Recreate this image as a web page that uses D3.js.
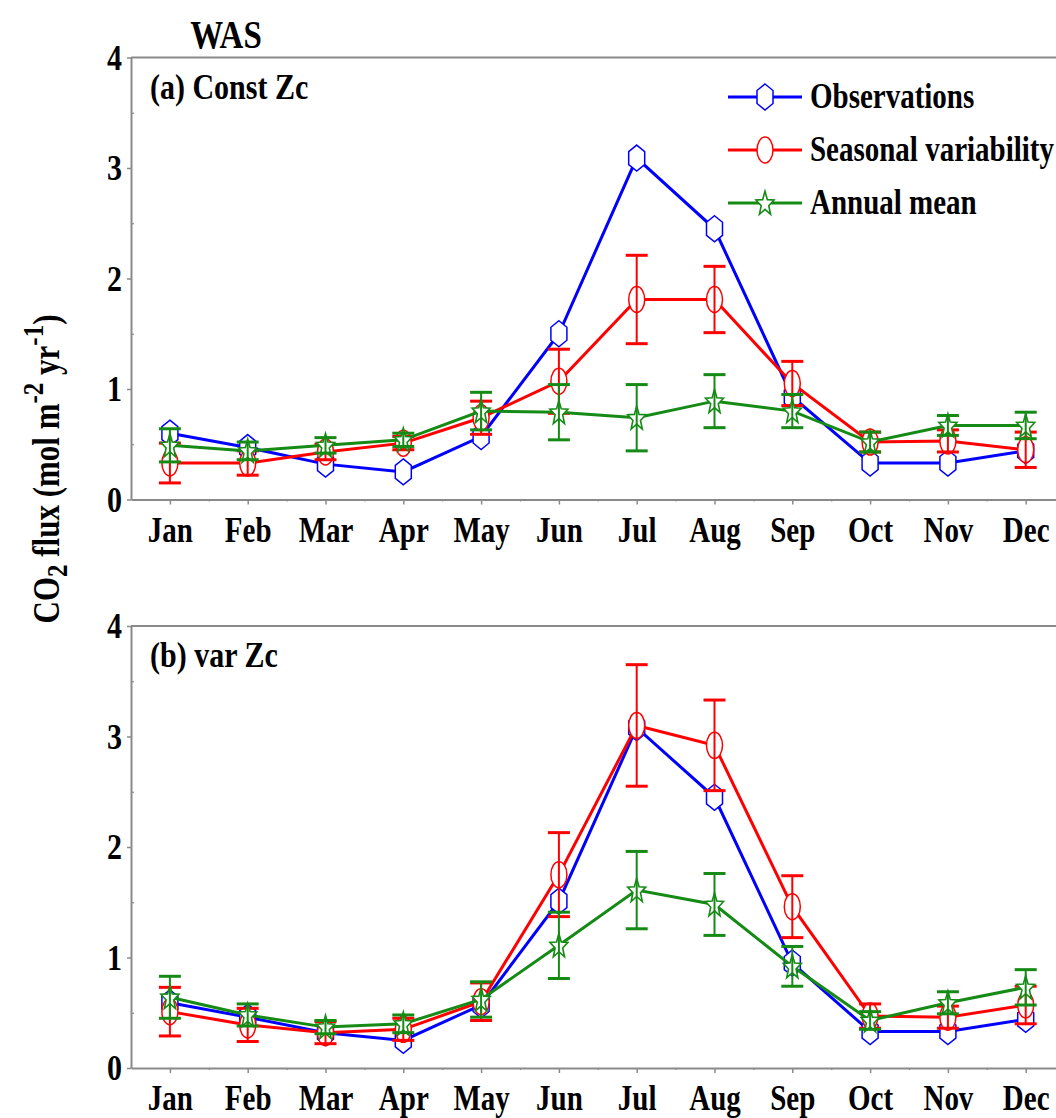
<!DOCTYPE html>
<html>
<head>
<meta charset="utf-8">
<script src="https://cdnjs.cloudflare.com/ajax/libs/d3/7.8.5/d3.min.js"></script>
<style>
  body { margin: 0; background: #fff; }
  svg { display: block; }
  text { font-family: "Liberation Serif", "Times New Roman", serif; font-weight: bold; fill: #000; }
</style>
</head>
<body>
<script>
// ---- data ----
var months = ["Jan","Feb","Mar","Apr","May","Jun","Jul","Aug","Sep","Oct","Nov","Dec"];
var yTicks = [0, 1, 2, 3, 4];

// (a) Const Zc
var obsA     = [0.60, 0.47, 0.32, 0.25, 0.57, 1.50, 3.09, 2.45, 0.93, 0.33, 0.33, 0.44];
var seasA    = [0.33, 0.33, 0.43, 0.51, 0.74, 1.07, 1.81, 1.81, 1.05, 0.52, 0.53, 0.45];
var seasErrA = [0.18, 0.11, 0.07, 0.06, 0.15, 0.29, 0.40, 0.30, 0.20, 0.09, 0.10, 0.16];
var annA     = [0.49, 0.44, 0.49, 0.54, 0.80, 0.79, 0.74, 0.89, 0.80, 0.52, 0.67, 0.67];
var annErrA  = [0.15, 0.08, 0.07, 0.06, 0.17, 0.25, 0.30, 0.24, 0.15, 0.09, 0.09, 0.12];

// (b) var Zc
var obsB     = [0.59, 0.46, 0.32, 0.25, 0.57, 1.51, 3.08, 2.45, 0.95, 0.33, 0.33, 0.44];
var seasB    = [0.51, 0.39, 0.32, 0.35, 0.60, 1.75, 3.10, 2.92, 1.46, 0.47, 0.46, 0.57];
var seasErrB = [0.22, 0.15, 0.10, 0.10, 0.17, 0.38, 0.55, 0.41, 0.28, 0.11, 0.10, 0.17];
var annB     = [0.64, 0.48, 0.37, 0.40, 0.62, 1.11, 1.61, 1.48, 0.92, 0.43, 0.59, 0.73];
var annErrB  = [0.19, 0.10, 0.06, 0.08, 0.16, 0.30, 0.35, 0.28, 0.18, 0.08, 0.10, 0.16];

var W = 1056, H = 1118;
var blue = "#0000ff", red = "#ff0000", green = "#158a15", axisCol = "#8a8a8a";
var TALL = "scale(1,1.2)"; // glyphs in the figure are taller than plain Times

var svg = d3.select("body").append("svg")
  .attr("width", W).attr("height", H);

var x = d3.scaleLinear().domain([0.5, 12.5]).range([131, 1064.6]);

// marker shapes
var hexPath = function(w, h) {
  var hw = w/2, hh = h/2;
  return "M0," + (-hh) + "L" + hw + "," + (-hh/2) + "L" + hw + "," + (hh/2) +
         "L0," + hh + "L" + (-hw) + "," + (hh/2) + "L" + (-hw) + "," + (-hh/2) + "Z";
};
var starPath = function(R, sy) {
  var pts = [];
  for (var i = 0; i < 10; i++) {
    var r = (i % 2 == 0) ? R : R*0.42;
    var a = -Math.PI/2 + i*Math.PI/5;
    pts.push([r*Math.cos(a), r*Math.sin(a)*sy]);
  }
  return "M" + pts.map(function(p){ return p[0].toFixed(2) + "," + p[1].toFixed(2); }).join("L") + "Z";
};

var drawMarker = function(g, kind, cx, cy, col) {
  if (kind == "hex") {
    g.append("path").attr("d", hexPath(16, 26))
      .attr("transform", "translate(" + cx + "," + cy + ")")
      .attr("fill", "#fff").attr("stroke", col).attr("stroke-width", 1.5);
  } else if (kind == "circ") {
    g.append("ellipse").attr("cx", cx).attr("cy", cy).attr("rx", 8).attr("ry", 13)
      .attr("fill", "#fff").attr("stroke", col).attr("stroke-width", 1.5);
  } else {
    g.append("path").attr("d", starPath(9.5, 1.35))
      .attr("transform", "translate(" + cx + "," + (cy + 1) + ")")
      .attr("fill", "#fff").attr("stroke", col).attr("stroke-width", 1.6);
  }
};

var drawSeries = function(g, y, vals, errs, kind, col) {
  var line = d3.line()
    .x(function(d, i){ return x(i + 1); })
    .y(function(d){ return y(d); });
  g.append("path").datum(vals).attr("d", line)
    .attr("fill", "none").attr("stroke", col).attr("stroke-width", 3);
  vals.forEach(function(v, i){
    drawMarker(g, kind, x(i + 1), y(v), col);
  });
  if (errs) {
    vals.forEach(function(v, i){
      var cx = x(i + 1), top = y(v + errs[i]), bot = y(v - errs[i]);
      g.append("line").attr("x1", cx).attr("x2", cx).attr("y1", top).attr("y2", bot)
        .attr("stroke", col).attr("stroke-width", 2);
      [top, bot].forEach(function(yy){
        g.append("line").attr("x1", cx - 11).attr("x2", cx + 11).attr("y1", yy).attr("y2", yy)
          .attr("stroke", col).attr("stroke-width", 3);
      });
    });
  }
};

// text placed with a vertical stretch
var tallText = function(g, tx, ty, str, size, anchor) {
  return g.append("text")
    .attr("transform", "translate(" + tx + "," + ty + ") " + TALL)
    .attr("text-anchor", anchor || "start")
    .style("font-size", size + "px")
    .text(str);
};

var drawPanel = function(y0, y4, label, obs, seas, seasErr, ann, annErr, withLegend) {
  var y = d3.scaleLinear().domain([0, 4]).range([y0, y4]);
  var g = svg.append("g");

  // top frame line
  g.append("line").attr("x1", x(0.5)).attr("x2", W).attr("y1", y(4)).attr("y2", y(4))
    .attr("stroke", axisCol).attr("stroke-width", 2);

  // x axis, major + minor
  var xAx = g.append("g").attr("transform", "translate(0," + y(0) + ")")
    .call(d3.axisBottom(x).tickValues(d3.range(1, 13)).tickSize(5).tickSizeOuter(0)
      .tickFormat(function(d){ return months[d - 1]; }));
  xAx.select(".domain").attr("stroke", axisCol).attr("stroke-width", 2);
  xAx.selectAll(".tick line").attr("stroke", axisCol).attr("stroke-width", 1.5);
  xAx.selectAll(".tick text").attr("y", 0).attr("dy", null)
    .attr("transform", "translate(0,42) " + TALL)
    .style("font-size", "29px").style("font-family", "Liberation Serif").style("font-weight", "bold").attr("fill", "#000");
  var xMin = g.append("g").attr("transform", "translate(0," + y(0) + ")")
    .call(d3.axisBottom(x).tickValues(d3.range(1.5, 12.5, 1)).tickSize(2).tickFormat(""));
  xMin.select(".domain").remove();
  xMin.selectAll(".tick line").attr("stroke", axisCol).attr("stroke-width", 1.2);

  // y axis, major + minor
  var yAx = g.append("g").attr("transform", "translate(" + x(0.5) + ",0)")
    .call(d3.axisLeft(y).tickValues(yTicks).tickSize(4).tickSizeOuter(0)
      .tickFormat(d3.format("d")));
  yAx.select(".domain").attr("stroke", axisCol).attr("stroke-width", 2);
  yAx.selectAll(".tick line").attr("stroke", axisCol).attr("stroke-width", 1.5);
  yAx.selectAll(".tick text").attr("x", 0).attr("dy", "0.33em")
    .attr("transform", "translate(-9,0) " + TALL)
    .style("font-size", "30px").style("font-family", "Liberation Serif").style("font-weight", "bold").attr("fill", "#000");
  var yMin = g.append("g").attr("transform", "translate(" + x(0.5) + ",0)")
    .call(d3.axisRight(y).tickValues([0.5, 1.5, 2.5, 3.5]).tickSize(3).tickFormat(""));
  yMin.select(".domain").remove();
  yMin.selectAll(".tick line").attr("stroke", axisCol).attr("stroke-width", 1.2);

  // panel label
  tallText(g, 150, y(4) + 41, label, 30);

  drawSeries(g, y, obs, null, "hex", blue);
  drawSeries(g, y, seas, seasErr, "circ", red);
  drawSeries(g, y, ann, annErr, "star", green);

  if (withLegend) {
    var items = [["Observations", "hex", blue], ["Seasonal variability", "circ", red], ["Annual mean", "star", green]];
    items.forEach(function(it, i){
      var ly = 97 + i*53;
      var lg = g.append("g");
      lg.append("line").attr("x1", 728).attr("x2", 802).attr("y1", ly).attr("y2", ly)
        .attr("stroke", it[2]).attr("stroke-width", 3);
      drawMarker(lg, it[1], 765, ly, it[2]);
      tallText(lg, 810, ly + 11, it[0], 29);
    });
  }
};

drawPanel(499.5, 57.5, "(a) Const Zc", obsA, seasA, seasErrA, annA, annErrA, true);
drawPanel(1068, 626, "(b) var Zc", obsB, seasB, seasErrB, annB, annErrB, false);

// title
tallText(svg, 226, 48, "WAS", 33, "middle");

// y axis title
var yt = svg.append("text")
  .attr("transform", "translate(59,469) rotate(-90) " + TALL)
  .attr("text-anchor", "middle")
  .style("font-size", "31px");
yt.append("tspan").text("CO");
yt.append("tspan").attr("dy", 7).style("font-size", "25px").text("2");
yt.append("tspan").attr("dy", -7).text(" flux (mol m");
yt.append("tspan").attr("dy", -13).style("font-size", "25px").text("-2");
yt.append("tspan").attr("dy", 13).text(" yr");
yt.append("tspan").attr("dy", -13).style("font-size", "25px").text("-1");
yt.append("tspan").attr("dy", 13).text(")");
</script>
</body>
</html>
